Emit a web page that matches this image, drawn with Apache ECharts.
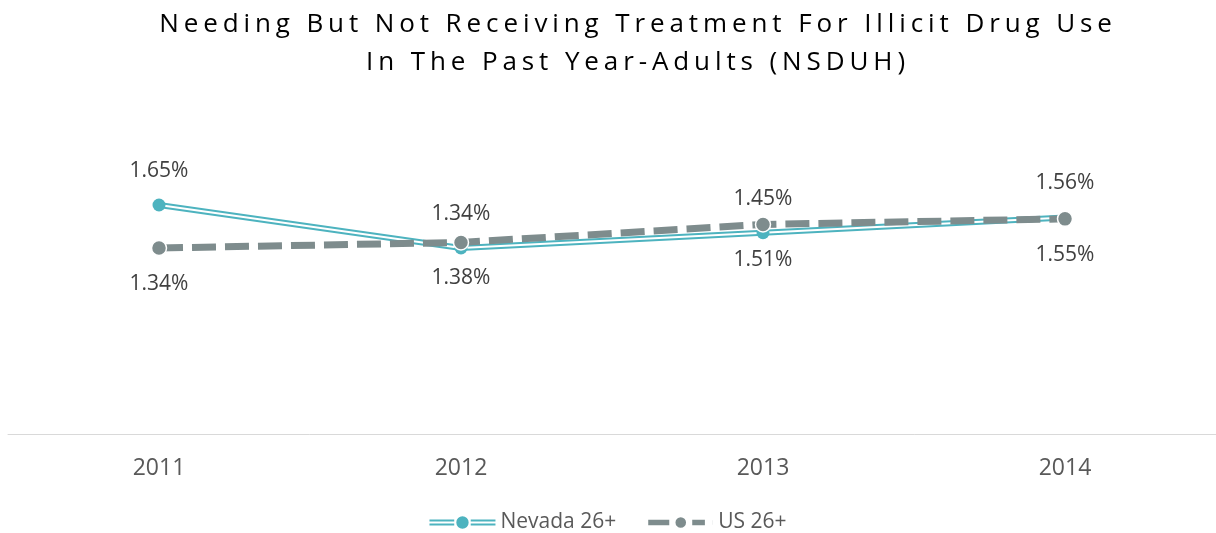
<!DOCTYPE html>
<html>
<head>
<meta charset="utf-8">
<script src="https://cdn.jsdelivr.net/npm/echarts@6/dist/echarts.min.js"></script>
<style>
	html, body { margin: 0; padding: 0; background: #fff; }
	#main { width: 1216px; height: 533px; position: relative; }
	#title {
		position: absolute; left: 30px; top: 3px; width: 1216px; text-align: center;
		font-family: "Open Sans", sans-serif; font-size: 26px; line-height: 38px;
		letter-spacing: 4.9px; color: #000; z-index: 2;
	}
</style>
</head>
<body>
<div id="main">
	<div id="title">Needing But Not Receiving Treatment For Illicit Drug Use<br>In The Past Year-Adults (NSDUH)</div>
	<div id="chart" style="width:1216px;height:533px;"></div>
</div>
<script>
var years = ['2011', '2012', '2013', '2014'];
var nevada = [1.65, 1.34, 1.45, 1.56];
var us = [1.34, 1.38, 1.51, 1.55];

var TEAL = '#4db3bf';
var GREY = '#7e8c8d';

var labelFmt = function(p) { return p.value.toFixed(2) + '%'; };

// 图例图标：双线+圆点 / 粗虚线+圆点
var iconNevada = 'path://M0,3h24v2h-24z M0,7h24v2h-24z M40,3h24v2h-24z M40,7h24v2h-24z M38,6a6,6 0 1,1 -12,0a6,6 0 1,1 12,0z';
var iconUS = 'path://M0,2.5h22v7h-22z M42,2.5h14v7h-14z M61,3h2v6h-2z M38,6a6,6 0 1,1 -12,0a6,6 0 1,1 12,0z';

var _chart = echarts.init(document.getElementById('chart'));
_chart.setOption({
	textStyle: { fontFamily: 'Open Sans' },
	grid: { left: 8, right: 0, top: 87, bottom: 99 },
	legend: {
		top: 507,
		left: 'center',
		itemWidth: 66,
		itemHeight: 14,
		itemGap: 30,
		textStyle: { fontSize: 21, color: '#595959' },
		data: [
			{ name: 'Nevada 26+', icon: iconNevada },
			{ name: 'US 26+', icon: iconUS }
		]
	},
	xAxis: [{
		type: 'category',
		data: years,
		axisLine: { lineStyle: { color: '#d9d9d9', width: 1 } },
		axisTick: { show: false },
		axisLabel: { fontSize: 23, color: '#595959', margin: 23 }
	}],
	yAxis: [{
		type: 'value',
		min: 0,
		max: 2.5,
		show: false,
		splitLine: { show: false }
	}],
	series: [
		{
			name: 'Nevada 26+',
			type: 'line',
			data: nevada,
			symbol: 'circle',
			symbolSize: 13,
			showSymbol: false,
			itemStyle: { color: TEAL },
			lineStyle: { color: TEAL, width: 6 },
			z: 2
		},
		{
			name: 'Nevada 26+',
			type: 'line',
			data: nevada,
			showSymbol: false,
			lineStyle: { color: '#fff', width: 2 },
			itemStyle: { color: TEAL },
			z: 3
		},
		{
			name: 'Nevada 26+',
			type: 'line',
			data: nevada,
			symbol: 'circle',
			symbolSize: 13,
			itemStyle: { color: TEAL },
			lineStyle: { opacity: 0 },
			label: {
				show: true, position: 'top', distance: 17,
				fontSize: 21, color: '#404040', formatter: labelFmt
			},
			z: 4
		},
		{
			name: 'US 26+',
			type: 'line',
			data: us,
			symbol: 'circle',
			symbolSize: 15,
			itemStyle: { color: GREY, borderColor: '#fff', borderWidth: 1.5 },
			lineStyle: { color: GREY, width: 7, type: [24, 9] },
			label: {
				show: true, position: 'bottom', distance: 17,
				fontSize: 21, color: '#404040', formatter: labelFmt
			},
			z: 5
		}
	]
});
</script>
</body>
</html>
